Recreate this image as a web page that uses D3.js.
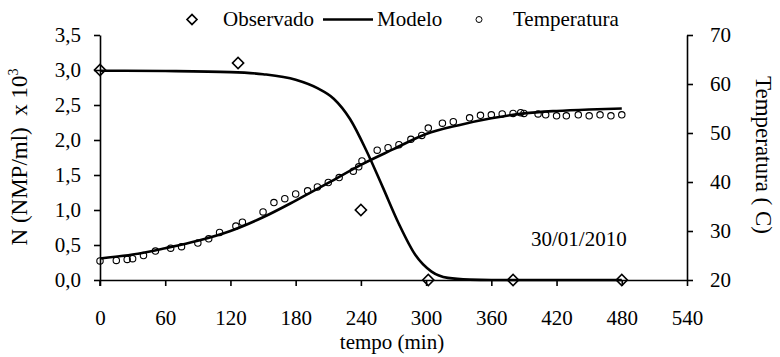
<!DOCTYPE html>
<html><head><meta charset="utf-8">
<script src="https://cdn.jsdelivr.net/npm/d3@7"></script>
<style>
html,body{margin:0;padding:0;background:#fff;}
</style></head>
<body><svg id="c" width="780" height="357"></svg>
<script>
// Observed microbial counts N (x10^3 NMP/ml)
const obsTime = [0, 127, 240, 302, 380, 480];
const obsN    = [3.0, 3.1, 1.0, 0.0, 0.0, 0.0];
// Model curve for N
const modNTime = [0, 60, 120, 150, 180, 200, 215, 230, 245, 260, 275, 290, 305, 320, 340, 360, 420, 480];
const modN     = [2.99, 2.985, 2.97, 2.94, 2.86, 2.74, 2.59, 2.30, 1.85, 1.33, 0.80, 0.36, 0.12, 0.03, 0.005, 0.0, 0.0, 0.0];
// Temperature observations
const tempTime = [0, 15, 25, 30, 40, 51, 65, 75, 90, 100, 110, 125, 131, 150, 160, 170, 180, 191, 200, 210, 220, 233, 238, 241, 255, 265, 275, 286, 296, 302, 315, 325, 340, 350, 360, 370, 380, 387, 390, 403, 410, 420, 429, 440, 450, 460, 470, 480];
const tempObs  = [23.9, 24.0, 24.2, 24.35, 25.0, 25.9, 26.5, 26.8, 27.55, 28.4, 29.7, 31.0, 31.8, 33.9, 35.8, 36.6, 37.55, 38.2, 39.0, 39.9, 40.9, 42.2, 43.1, 44.3, 46.5, 47.0, 47.6, 48.7, 49.5, 51.0, 52.0, 52.3, 53.1, 53.6, 53.7, 53.9, 54.0, 54.15, 54.0, 53.9, 53.7, 53.5, 53.5, 53.7, 53.5, 53.7, 53.5, 53.7];
// Temperature model curve
const modTTime = [0, 30, 60, 90, 120, 150, 180, 210, 240, 270, 300, 330, 360, 390, 420, 450, 480];
const modT     = [24.4, 25.2, 26.5, 28.0, 30.0, 32.8, 36.2, 39.8, 43.5, 46.7, 49.8, 51.6, 53.0, 54.0, 54.5, 54.8, 55.0];
// Axis ticks
const xTicks = [0, 60, 120, 180, 240, 300, 360, 420, 480, 540];
const yTicks = [0, 0.5, 1.0, 1.5, 2.0, 2.5, 3.0, 3.5];
const y2Ticks = [20, 30, 40, 50, 60, 70];

const svg = d3.select("#c");
const x = d3.scaleLinear().domain([0, 540]).range([100, 687]);
const y = d3.scaleLinear().domain([0, 3.5]).range([280, 35]);
const y2 = d3.scaleLinear().domain([20, 70]).range([280, 35]);
const fs = 21;
const FF = '"Liberation Serif"';
const fmt = d => d3.format(".1f")(d).replace(".", ",");

// model lines
const line = d3.line().curve(d3.curveMonotoneX);
svg.append("path")
  .attr("d", line(modTTime.map((t, i) => [x(t), y2(modT[i])])))
  .attr("fill", "none").attr("stroke", "#000").attr("stroke-width", 2.6);
svg.append("path")
  .attr("d", line(modNTime.map((t, i) => [x(t), y(modN[i])])))
  .attr("fill", "none").attr("stroke", "#000").attr("stroke-width", 2.6);

// temperature circles
svg.append("g").selectAll("circle").data(tempTime).join("circle")
  .attr("cx", (d) => x(d)).attr("cy", (d, i) => y2(tempObs[i])).attr("r", 3.2)
  .attr("fill", "none").attr("stroke", "#000").attr("stroke-width", 1.1);

// observed diamonds
svg.append("g").selectAll("path").data(obsTime).join("path")
  .attr("d", d3.symbol().type(d3.symbolSquare).size(62))
  .attr("transform", (d, i) => `translate(${x(d)},${y(obsN[i])}) rotate(45)`)
  .attr("fill", "none").attr("stroke", "#000").attr("stroke-width", 1.6);

// axes
const ax = svg.append("g").attr("transform", "translate(0,280)")
  .call(d3.axisBottom(x).tickValues(xTicks).tickSize(6).tickSizeOuter(0).tickPadding(24).tickFormat(d3.format("d")));
const ay = svg.append("g").attr("transform", "translate(100,0)")
  .call(d3.axisLeft(y).tickValues(yTicks).tickSize(6).tickSizeOuter(0).tickPadding(13).tickFormat(fmt));
const ay2 = svg.append("g").attr("transform", "translate(687,0)")
  .call(d3.axisRight(y2).tickValues(y2Ticks).tickSize(6).tickSizeOuter(0).tickPadding(17).tickFormat(d3.format("d")));
[ax, ay, ay2].forEach(g => {
  g.select(".domain").attr("stroke", "#000").attr("stroke-width", 1.6);
  g.selectAll(".tick line").attr("stroke", "#000").attr("stroke-width", 1.6);
  g.selectAll(".tick text").attr("fill", "#000").style("font-family", FF).style("font-size", fs + "px");
});
svg.append("line").attr("x1", 100).attr("x2", 100).attr("y1", 280).attr("y2", 286).attr("stroke", "#000").attr("stroke-width", 1.6);

function T(sel, size) { return sel.style("font-family", FF).style("font-size", (size || fs) + "px").style("white-space", "pre").attr("fill", "#000"); }

// legend
const lg = svg.append("g");
lg.append("path").attr("d", d3.symbol().type(d3.symbolSquare).size(50)).attr("transform", "translate(192,19.5) rotate(45)")
  .attr("fill", "none").attr("stroke", "#000").attr("stroke-width", 1.6);
T(lg.append("text").attr("x", 223).attr("y", 26).text("Observado"));
lg.append("line").attr("x1", 323).attr("x2", 373).attr("y1", 19.5).attr("y2", 19.5).attr("stroke", "#000").attr("stroke-width", 2.6);
T(lg.append("text").attr("x", 377).attr("y", 26).text("Modelo"));
lg.append("circle").attr("cx", 479).attr("cy", 19.5).attr("r", 3).attr("fill", "none").attr("stroke", "#000");
T(lg.append("text").attr("x", 513).attr("y", 26).text("Temperatura"));

// axis titles
T(svg.append("text").attr("x", 392).attr("y", 349).attr("text-anchor", "middle").text("tempo (min)"));
const yl = T(svg.append("text").attr("transform", "translate(27,157) rotate(-90)").attr("text-anchor", "middle"), 23);
yl.append("tspan").text("N (NMP/ml)  x 10");
yl.append("tspan").attr("dy", -9).style("font-size", "14px").text("3");
T(svg.append("text").attr("transform", "translate(756,155) rotate(90)").attr("text-anchor", "middle").text("Temperatura ( C)"), 23);
T(svg.append("text").attr("x", 531).attr("y", 246).text("30/01/2010"));
</script></body></html>
